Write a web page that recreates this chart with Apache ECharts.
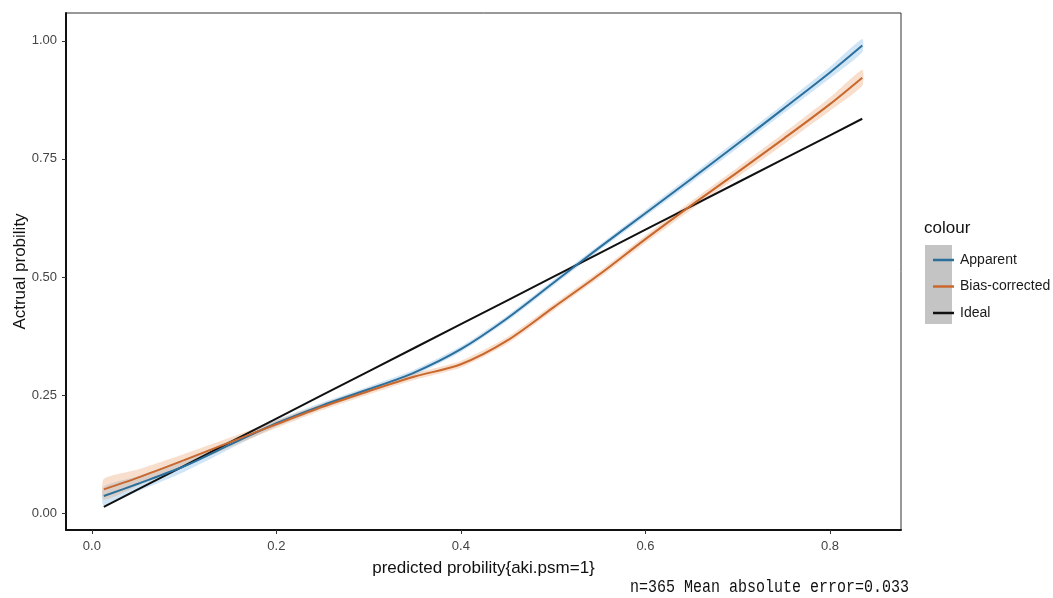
<!DOCTYPE html>
<html>
<head>
<meta charset="utf-8">
<script src="https://cdn.jsdelivr.net/npm/echarts@6/dist/echarts.min.js"></script>
<style>html,body{margin:0;padding:0;background:#fff}#c{width:1053px;height:598px}</style>
</head>
<body>
<div id="c"></div>
<script>
// ---- data ----
const xPred = [0.013, 0.05, 0.1, 0.15, 0.2, 0.25, 0.3, 0.35, 0.4, 0.45, 0.5, 0.55, 0.6, 0.65, 0.7, 0.75, 0.8, 0.835];
const apparent = [0.036, 0.062, 0.099, 0.145, 0.19, 0.228, 0.262, 0.298, 0.347, 0.412, 0.487, 0.562, 0.635, 0.708, 0.782, 0.857, 0.933, 0.99];
const biasCorrected = [0.05, 0.075, 0.112, 0.15, 0.188, 0.225, 0.258, 0.289, 0.315, 0.365, 0.435, 0.505, 0.58, 0.652, 0.722, 0.793, 0.866, 0.922];
const ideal = [0.013, 0.05, 0.1, 0.15, 0.2, 0.25, 0.3, 0.35, 0.4, 0.45, 0.5, 0.55, 0.6, 0.65, 0.7, 0.75, 0.8, 0.835];
const apparentHalfBand = [0.02, 0.016, 0.012, 0.009, 0.007, 0.006, 0.006, 0.006, 0.006, 0.006, 0.006, 0.006, 0.007, 0.008, 0.009, 0.01, 0.012, 0.014];
const biasHalfBand = [0.022, 0.017, 0.013, 0.01, 0.008, 0.007, 0.007, 0.007, 0.007, 0.007, 0.007, 0.007, 0.008, 0.009, 0.01, 0.012, 0.014, 0.017];
const xTicks = [0, 0.2, 0.4, 0.6, 0.8];
const yTicks = [0, 0.25, 0.5, 0.75, 1.0];
const seriesNames = ['Apparent', 'Bias-corrected', 'Ideal'];
const colors = ['#2b6f9c', '#c8682e', '#111111'];
const footnote = 'n=365 Mean absolute error=0.033';

const pts = (ys) => xPred.map((x, i) => [x, ys[i]]);

const chart = echarts.init(document.getElementById('c'), null, {renderer: 'canvas'});
const axisFont = "'Liberation Sans', Arial, sans-serif";
function band(name, ys, hw, color) {
  return {
    type: 'custom', name: name + '_band', silent: true, z: 1,
    data: xPred.map((x, i) => [x, ys[i] - hw[i], ys[i] + hw[i]]),
    encode: {x: 0, y: [1, 2]},
    renderItem: function (params, api) {
      if (params.dataIndex !== 0) return;
      const upper = [], lowerPts = [];
      for (let i = 0; i < xPred.length; i++) {
        upper.push(api.coord([xPred[i], ys[i] + hw[i]]));
        lowerPts.push(api.coord([xPred[i], ys[i] - hw[i]]));
      }
      return {type: 'polygon', shape: {points: upper.concat(lowerPts.reverse()), smooth: 0.2}, style: {fill: color}};
    }
  };
}
chart.setOption({
  animation: false,
  grid: {left: 66, top: 13, right: 152, bottom: 68, show: true, borderColor: '#333', borderWidth: 1,
         containLabel: false, outerBoundsMode: 'none'},
  xAxis: {
    type: 'value', min: -0.028, max: 0.877,
    name: 'predicted probility{aki.psm=1}', nameLocation: 'middle', nameGap: 30, nameMoveOverlap: false,
    nameTextStyle: {fontFamily: axisFont, fontSize: 17, color: '#111'},
    axisLine: {show: true, onZero: false, lineStyle: {color: '#111', width: 2}},
    axisTick: {show: true, customValues: xTicks, length: 4, lineStyle: {color: '#333'}},
    axisLabel: {customValues: xTicks, formatter: v => v.toFixed(1), fontFamily: axisFont, fontSize: 13, color: '#444', margin: 10},
    splitLine: {show: false}
  },
  yAxis: {
    type: 'value', min: -0.036, max: 1.059,
    name: 'Actrual probility', nameLocation: 'middle', nameGap: 37, nameMoveOverlap: false,
    nameTextStyle: {fontFamily: axisFont, fontSize: 17, color: '#111'},
    axisLine: {show: true, onZero: false, lineStyle: {color: '#111', width: 2}},
    axisTick: {show: true, customValues: yTicks, length: 4, lineStyle: {color: '#333'}},
    axisLabel: {customValues: yTicks, formatter: v => v.toFixed(2), fontFamily: axisFont, fontSize: 13, color: '#444', margin: 9},
    splitLine: {show: false}
  },
  legend: {
    data: seriesNames, orient: 'vertical', left: 928, top: 246,
    icon: 'rect', itemWidth: 21, itemHeight: 2.5, itemGap: 8.5,
    textStyle: {fontFamily: axisFont, fontSize: 14, color: '#1a1a1a', lineHeight: 18, padding: [0, 0, 0, 1]},
    selectedMode: false
  },
  graphic: [
    {type: 'rect', left: 925, top: 245, shape: {width: 27, height: 79}, style: {fill: '#c4c4c4'}, z: 0},
    {type: 'text', left: 924, top: 220, style: {text: 'colour', font: "17px 'Liberation Sans', Arial, sans-serif", fill: '#111'}},
    {type: 'text', left: 630, top: 578, style: {text: footnote, font: "15px 'Liberation Mono', 'DejaVu Sans Mono', monospace", fill: '#111'}, scaleY: 1.2}
  ],
  series: [
    band('Apparent', apparent, apparentHalfBand, 'rgba(120,180,225,0.35)'),
    band('Bias', biasCorrected, biasHalfBand, 'rgba(235,160,110,0.35)'),
    {type: 'line', name: 'Apparent', data: pts(apparent), smooth: 0.3, symbol: 'none', lineStyle: {color: colors[0], width: 2}, itemStyle: {color: colors[0]}, z: 3},
    {type: 'line', name: 'Bias-corrected', data: pts(biasCorrected), smooth: 0.3, symbol: 'none', lineStyle: {color: colors[1], width: 2}, itemStyle: {color: colors[1]}, z: 3},
    {type: 'line', name: 'Ideal', data: pts(ideal), symbol: 'none', lineStyle: {color: colors[2], width: 2}, itemStyle: {color: colors[2]}, z: 2}
  ]
});
</script>
</body>
</html>
